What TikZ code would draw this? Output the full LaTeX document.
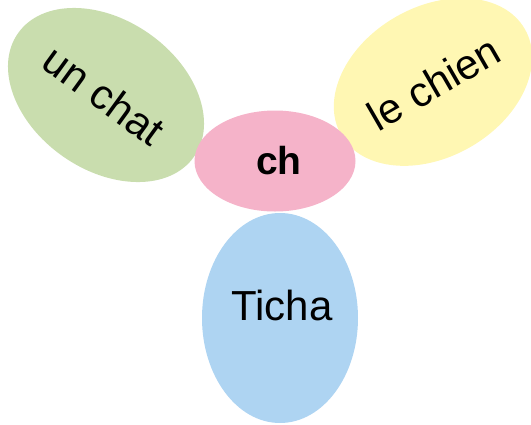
\documentclass[tikz,border=0pt]{standalone}
\usepackage{fontspec}
\setmainfont{Liberation Sans}
\usetikzlibrary{shapes.geometric}
\definecolor{cgreen}{HTML}{C9DDAE}
\definecolor{cyellow}{HTML}{FFF7B3}
\definecolor{cpink}{HTML}{F5B3C9}
\definecolor{cblue}{HTML}{AED4F2}
\tikzset{
  blob/.style={ellipse, inner sep=0pt, draw=none},
  lbl/.style={inner sep=0pt, font=\fontsize{42}{42}\selectfont},
}
\begin{document}
\begin{tikzpicture}[x=1pt,y=-1pt]
\useasboundingbox (0,0) rectangle (531,424);
\clip (0,0) rectangle (531,424);
\node[blob, fill=cgreen, minimum width=215pt, minimum height=150pt, rotate=-35] (g) at (106,95) {};
\node[blob, fill=cyellow, minimum width=212pt, minimum height=150pt, rotate=30] (y) at (433,82) {};
\node[blob, fill=cpink, minimum width=161pt, minimum height=101pt] (p) at (275,161) {};
\node[blob, fill=cblue, minimum width=156pt, minimum height=210pt] (b) at (280,318) {};
\node[lbl, rotate=-36] (tg) at (104,95) {un chat};
\node[lbl, rotate=30] (ty) at (434,83) {le chien};
\node[lbl, font=\fontsize{39}{39}\selectfont\bfseries] (tp) at (279,160.5) {ch};
\node[lbl, font=\fontsize{42}{42}\selectfont] (tb) at (282,305) {Ticha};
\end{tikzpicture}
\end{document}
